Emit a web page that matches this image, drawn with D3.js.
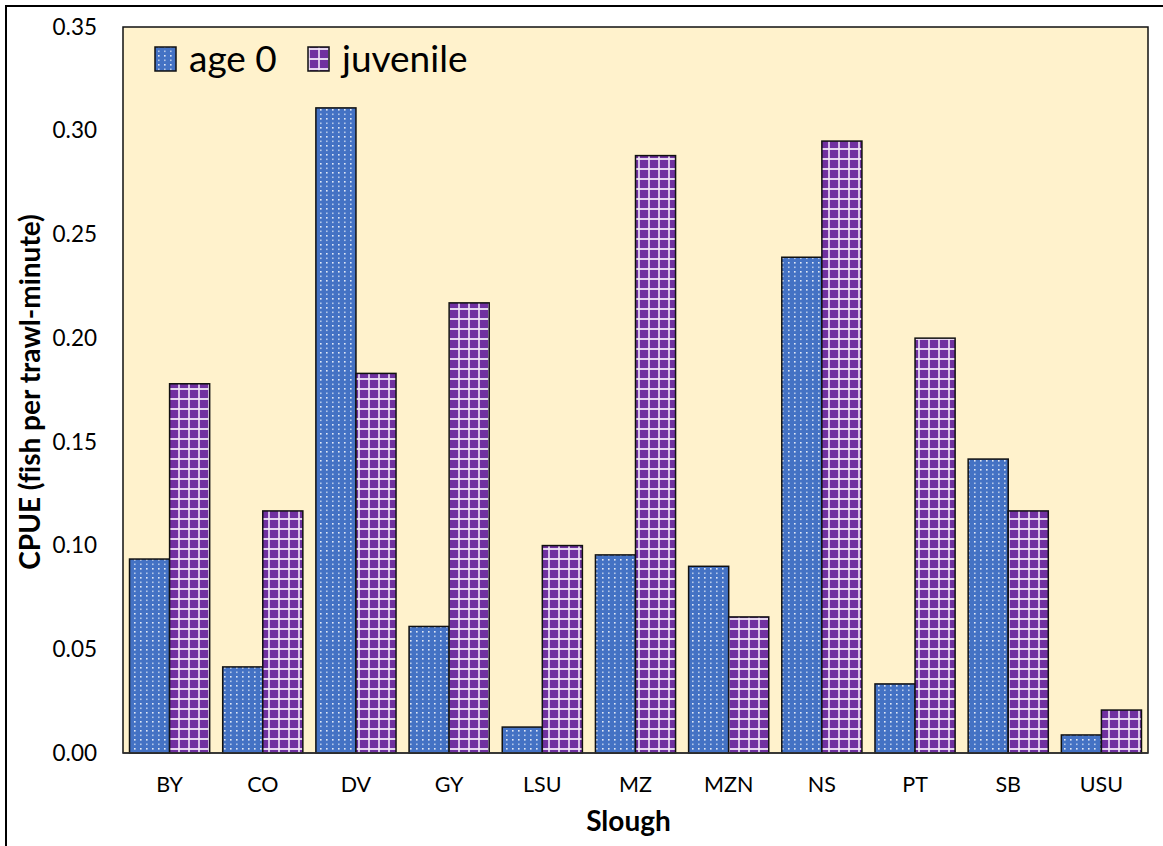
<!DOCTYPE html>
<html>
<head>
<meta charset="utf-8">
<script src="https://cdn.jsdelivr.net/npm/d3@7"></script>
<style>
  html, body { margin: 0; padding: 0; background: #fff; }
  svg { display: block; }
  text { font-family: Lato, "Open Sans", sans-serif; fill: #000; font-variant-ligatures: none; }
</style>
</head>
<body>
<svg id="chart" width="1163" height="846"></svg>
<script>
const categories = ["BY", "CO", "DV", "GY", "LSU", "MZ", "MZN", "NS", "PT", "SB", "USU"];
const seriesNames = ["age 0", "juvenile"];
const age0 = [0.0935, 0.0415, 0.311, 0.061, 0.0125, 0.0955, 0.090, 0.239, 0.0333, 0.1417, 0.0087];
const juvenile = [0.178, 0.1167, 0.183, 0.217, 0.100, 0.288, 0.0656, 0.295, 0.200, 0.1167, 0.0207];
const yTicks = [0, 0.05, 0.10, 0.15, 0.20, 0.25, 0.30, 0.35];

const svg = d3.select("#chart");
const W = 1163, H = 846;
const m = { left: 123, right: 1148, top: 27, bottom: 753 };

// outer border
svg.append("rect").attr("x", 6).attr("y", 6).attr("width", W).attr("height", H)
  .attr("fill", "#fff").attr("stroke", "#000").attr("stroke-width", 2);

// patterns
const defs = svg.append("defs");
const pd = defs.append("pattern").attr("id", "dots").attr("patternUnits", "userSpaceOnUse")
  .attr("width", 6).attr("height", 9);
pd.append("rect").attr("width", 6).attr("height", 9).attr("fill", "#4472C4");
pd.append("rect").attr("x", 2).attr("y", 1).attr("width", 1.6).attr("height", 1.6).attr("fill", "#ffffff").attr("opacity", 0.85);
pd.append("rect").attr("x", 2).attr("y", 5.5).attr("width", 1.6).attr("height", 1.6).attr("fill", "#ffffff").attr("opacity", 0.6);

const pg = defs.append("pattern").attr("id", "grid").attr("patternUnits", "userSpaceOnUse")
  .attr("width", 10).attr("height", 10);
pg.append("rect").attr("width", 10).attr("height", 10).attr("fill", "#7030A0");
pg.append("rect").attr("x", 0).attr("y", 8).attr("width", 10).attr("height", 2).attr("fill", "#f1e6f8").attr("opacity", 0.9);
pg.append("rect").attr("x", 8).attr("y", 0).attr("width", 2).attr("height", 10).attr("fill", "#f1e6f8").attr("opacity", 0.8);

const x0 = d3.scaleBand().domain(categories).range([m.left, m.right]).paddingInner(0.14).paddingOuter(0.07);
const x1 = d3.scaleBand().domain(seriesNames).range([0, x0.bandwidth()]);
const y = d3.scaleLinear().domain([0, 0.35]).range([m.bottom, m.top]);

// plot area
svg.append("rect").attr("x", m.left).attr("y", m.top).attr("width", m.right - m.left).attr("height", m.bottom - m.top)
  .attr("fill", "#FFF2CC").attr("stroke", "#111").attr("stroke-width", 1.5);

const data = categories.map((c, i) => ({ cat: c, vals: [age0[i], juvenile[i]] }));
const fills = { "age 0": "url(#dots)", "juvenile": "url(#grid)" };

const g = svg.append("g");
data.forEach(d => {
  seriesNames.forEach((s, j) => {
    g.append("rect")
      .attr("x", x0(d.cat) + x1(s))
      .attr("y", y(d.vals[j]))
      .attr("width", x1.bandwidth())
      .attr("height", y(0) - y(d.vals[j]))
      .attr("fill", fills[s])
      .attr("stroke", "#111")
      .attr("stroke-width", 1.5);
  });
});

// baseline
svg.append("line").attr("x1", m.left).attr("x2", m.right).attr("y1", m.bottom).attr("y2", m.bottom)
  .attr("stroke", "#333").attr("stroke-width", 1.5);

// y axis labels
const yAxis = d3.axisLeft(y).tickValues(yTicks).tickFormat(d3.format(".2f")).tickSize(0).tickPadding(26);
const ya = svg.append("g").attr("transform", `translate(${m.left},0)`).call(yAxis);
ya.select(".domain").remove();
ya.selectAll("text").style("font-size", "22.5px").style("font-family", "Lato, 'Open Sans', sans-serif");

// x axis labels
const xAxis = d3.axisBottom(x0).tickSize(0).tickPadding(24);
const xa = svg.append("g").attr("transform", `translate(0,${m.bottom})`).call(xAxis);
xa.select(".domain").remove();
xa.selectAll("text").style("font-size", "21.5px").style("font-family", "Lato, 'Open Sans', sans-serif");

// axis titles
svg.append("text").attr("x", (m.left + m.right) / 2 - 7).attr("y", 831).attr("text-anchor", "middle")
  .style("font-size", "28px").style("font-weight", "bold").text("Slough");
svg.append("text").attr("transform", `translate(40,${392}) rotate(-90)`)
  .attr("text-anchor", "middle").style("font-size", "28px").style("font-weight", "bold")
  .text("CPUE (fish per trawl-minute)");

// legend
const legend = svg.append("g");
const legX = [155, 308];
seriesNames.forEach((s, i) => {
  legend.append("rect").attr("x", legX[i]).attr("y", 47).attr("width", 21).attr("height", 24)
    .attr("fill", fills[s]).attr("stroke", "#111").attr("stroke-width", 1.5);
  legend.append("text").attr("x", legX[i] + 34).attr("y", 72)
    .style("font-size", "37px").text(s);
});
</script>
</body>
</html>
